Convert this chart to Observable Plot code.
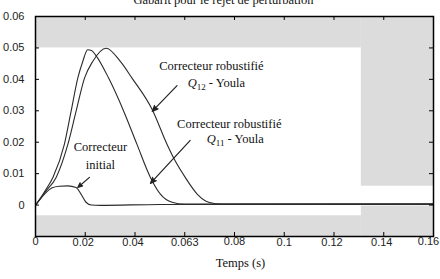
<!DOCTYPE html>
<html><head><meta charset="utf-8">
<script src="https://cdn.jsdelivr.net/npm/d3@7"></script>
<script src="https://cdn.jsdelivr.net/npm/@observablehq/plot@0.6"></script>
<style>body{margin:0;background:#fff} svg{display:block}</style>
</head><body><div id="chart"></div>
<script>
const title = "Gabarit pour le rejet de perturbation";
const xLabel = "Temps (s)";
const xTicks = [0, 0.02, 0.04, 0.06, 0.08, 0.1, 0.12, 0.14, 0.16];
const xTickLabels = ["0", "0.02", "0.04", "0.063", "0.08", "0.1", "0.12", "0.14", "0.16"];
const yTicks = [0, 0.01, 0.02, 0.03, 0.04, 0.05, 0.06];

// Template (gabarit) gray zones
const bandX1 = [0, 0.131, 0, 0.131];
const bandX2 = [0.131, 0.16, 0.131, 0.16];
const bandY1 = [0.05, 0.006, -0.01, -0.01];
const bandY2 = [0.06, 0.06, -0.0034, -0.0003];

// Correcteur initial
const tInit = [0, 0.002, 0.004, 0.0065, 0.0095, 0.013, 0.0163, 0.0183, 0.0203, 0.0225, 0.026, 0.05, 0.16];
const vInit = [0, 0.002, 0.0038, 0.0054, 0.006, 0.0061, 0.0056, 0.0035, 0.0009, 0.0, -0.0001, 0.0002, 0.0003];

// Correcteur robustifié Q11 - Youla
const tQ11 = [0, 0.002, 0.004, 0.007, 0.0116, 0.0143, 0.017, 0.019, 0.021, 0.0225, 0.0241, 0.0294, 0.0355, 0.0408, 0.0462, 0.0502, 0.0549, 0.06, 0.08, 0.16];
const vQ11 = [0, 0.0022, 0.0047, 0.0088, 0.0193, 0.0298, 0.0404, 0.0457, 0.0494, 0.0492, 0.0478, 0.0404, 0.0298, 0.0193, 0.0088, 0.0035, 0.0009, 0.0003, 0.0003, 0.0003];

// Correcteur robustifié Q12 - Youla
const tQ12 = [0, 0.002, 0.004, 0.0083, 0.013, 0.0163, 0.0197, 0.023, 0.0284, 0.0341, 0.0388, 0.0469, 0.0529, 0.0562, 0.0602, 0.065, 0.0696, 0.075, 0.09, 0.16];
const vQ12 = [0, 0.0021, 0.0043, 0.0088, 0.0193, 0.0298, 0.0404, 0.0457, 0.0499, 0.0457, 0.0404, 0.0304, 0.0193, 0.014, 0.0088, 0.0035, 0.0009, 0.0003, 0.0003, 0.0003];

// Annotations
const annText = ["Correcteur robustifié", "Q12 - Youla", "Correcteur robustifié", "Q11 - Youla", "Correcteur", "initial"];
const annX = [0.0707, 0.0727, 0.0779, 0.0803, 0.0261, 0.0261];
const annY = [0.0443, 0.0389, 0.0259, 0.0209, 0.0184, 0.0127];

const arrX1 = [0.0569, 0.0622, 0.0217];
const arrY1 = [0.038, 0.0206, 0.0088];
const arrX2 = [0.0469, 0.0462, 0.017];
const arrY2 = [0.0298, 0.0069, 0.0056];

const bands = bandX1.map((d, i) => ({x1: d, x2: bandX2[i], y1: bandY1[i], y2: bandY2[i]}));
const toPts = (ts, vs) => ts.map((t, i) => ({t, v: vs[i]}));
const ann = annText.map((s, i) => ({s, x: annX[i], y: annY[i]}));
const arrows = arrX1.map((d, i) => ({x1: d, y1: arrY1[i], x2: arrX2[i], y2: arrY2[i]}));

const serif = "'Liberation Serif', 'Times New Roman', serif";
const lineStyle = {x: "t", y: "v", stroke: "#2a2a2a", strokeWidth: 1.1, curve: "monotone-x"};
const fw = 440 - 35 - 7, fh = 279 - 16 - 43;

const chart = Plot.plot({
  width: 440, height: 279,
  marginLeft: 35, marginRight: 7, marginTop: 16, marginBottom: 43,
  x: {domain: [0, 0.16]},
  y: {domain: [-0.01, 0.06]},
  style: {fontFamily: "'Liberation Sans', Arial, sans-serif", fontSize: "11px", background: "#fff", overflow: "visible"},
  marks: [
    Plot.rect(bands, {x1: "x1", x2: "x2", y1: "y1", y2: "y2", fill: "#dcdcdc"}),
    Plot.line(toPts(tInit, vInit), lineStyle),
    Plot.line(toPts(tQ11, vQ11), lineStyle),
    Plot.line(toPts(tQ12, vQ12), lineStyle),
    Plot.arrow(arrows, {x1: "x1", y1: "y1", x2: "x2", y2: "y2", stroke: "#222", strokeWidth: 1.2, headLength: 8, headAngle: 45}),
    Plot.text(ann, {x: "x", y: "y", text: "s", fill: "#111"}),
    // inward ticks
    Plot.tickX(xTicks, {x: d => d, insetTop: fh - 4, stroke: "#000"}),
    Plot.tickX(xTicks, {x: d => d, insetBottom: fh - 4, stroke: "#000"}),
    Plot.tickY(yTicks, {y: d => d, insetRight: fw - 4, stroke: "#000"}),
    Plot.tickY(yTicks, {y: d => d, insetLeft: fw - 4, stroke: "#000"}),
    Plot.frame({stroke: "#000", strokeWidth: 1.5}),
    Plot.axisX({ticks: xTicks, tickSize: 0, tickPadding: 2, label: null, fill: "#222",
      tickFormat: d => xTickLabels[xTicks.findIndex(t => Math.abs(t - d) < 1e-9)]}),
    Plot.axisY({ticks: yTicks, tickSize: 0, tickPadding: 11, label: null, fill: "#222",
      tickFormat: d => d === 0 ? "0" : String(+d.toFixed(2))}),
    Plot.text([title], {frameAnchor: "top", dx: -11, dy: -13, lineAnchor: "bottom", fill: "#111"}),
    Plot.text([xLabel], {frameAnchor: "bottom", dx: 6, dy: 26, lineAnchor: "middle", fill: "#111"})
  ]
});
document.getElementById("chart").appendChild(chart);

const svg = d3.select(chart);
// serif 12px font for annotations, title and axis label
svg.selectAll("g[aria-label=text] text").style("font-family", serif).style("font-size", "12.5px");
// subscripts for Q11 / Q12
svg.selectAll("g[aria-label=text] text").each(function() {
  const el = d3.select(this);
  const m = el.text().match(/^Q(1[12])( - Youla)$/);
  if (m) {
    el.text(null);
    el.append("tspan").attr("font-style", "italic").text("Q");
    el.append("tspan").style("font-size", "9px").attr("dy", 3).text(m[1]);
    el.append("tspan").attr("dy", -3).text(m[2]);
  }
});
// filled arrowheads
svg.selectAll("g[aria-label=arrow] path").attr("fill", "#222").attr("stroke-linejoin", "miter");
// tick label nudges as in the reference
svg.selectAll("g[aria-label='x-axis tick label'] text").each(function() {
  const el = d3.select(this);
  const s = el.text();
  if (s === "0.16") el.attr("dx", -5);
  else if (s !== "0" && s !== "0.063" && s !== "0.1" && s !== "0.08") el.attr("dx", -2);
  if (s === "0" || s === "0.08" || s === "0.16") el.attr("dy", "-0.1em");
});
</script></body></html>
